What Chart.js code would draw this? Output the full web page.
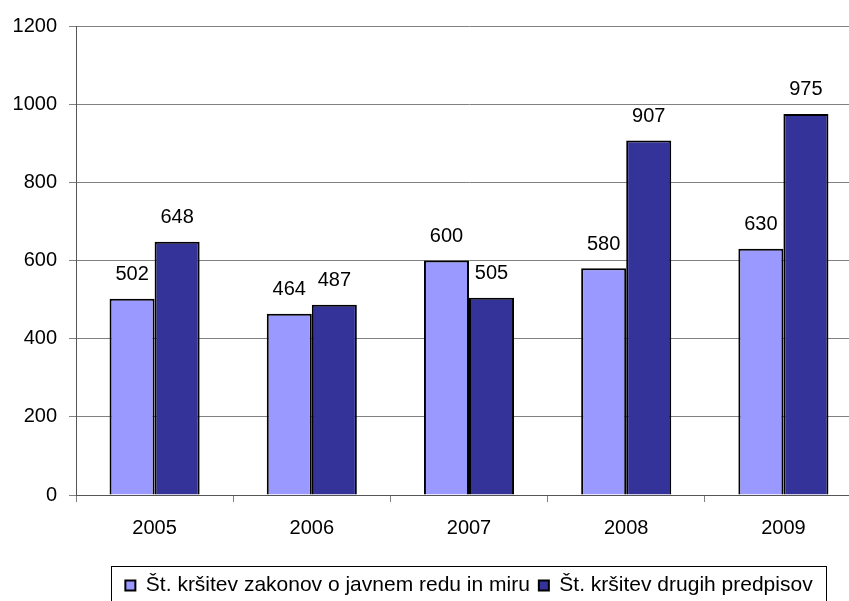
<!DOCTYPE html>
<html>
<head>
<meta charset="utf-8">
<script src="https://cdn.jsdelivr.net/npm/chart.js@4.4.1/dist/chart.umd.min.js"></script>
<style>
html,body{margin:0;padding:0;background:#fff;overflow:hidden;}
#wrap{width:880px;height:620px;position:relative;}
</style>
</head>
<body>
<div id="wrap"><canvas id="c" width="880" height="620"></canvas></div>
<script>
const categories = ['2005','2006','2007','2008','2009'];
const seriesNames = ['Št. kršitev zakonov o javnem redu in miru','Št. kršitev drugih predpisov'];
const javniRed = [502,464,600,580,630];
const drugiPredpisi = [648,487,505,907,975];
const yTicks = [0,200,400,600,800,1000,1200];

const FONT = "'Liberation Sans', Arial, sans-serif";

const valueLabels = {
  id:'valueLabels',
  afterDatasetsDraw(chart){
    const ctx = chart.ctx;
    ctx.save();
    ctx.font = '20px ' + FONT;
    ctx.fillStyle = '#000';
    ctx.textAlign = 'center';
    ctx.textBaseline = 'bottom';
    chart.data.datasets.forEach((ds,i)=>{
      const meta = chart.getDatasetMeta(i);
      meta.data.forEach((bar,j)=>{
        ctx.fillText(String(ds.data[j]), bar.x, bar.y - 14);
      });
    });
    ctx.restore();
  }
};

const legendBox = {
  id:'legendBox',
  afterDraw(chart){
    const lg = chart.legend;
    if(!lg || !lg.legendHitBoxes || !lg.legendHitBoxes.length) return;
    const hb = lg.legendHitBoxes;
    let l = Infinity, r = -Infinity, t = Infinity;
    hb.forEach(h=>{ l=Math.min(l,h.left); r=Math.max(r,h.left+h.width); t=Math.min(t,h.top); });
    const ctx = chart.ctx;
    ctx.save();
    ctx.strokeStyle = '#000';
    ctx.lineWidth = 1;
    const x0 = Math.round(l-14)+0.5;
    const x1 = Math.round(r+13)+0.5;
    ctx.strokeRect(x0, Math.round(lg.top)+0.5, x1-x0, 80);
    ctx.restore();
  }
};

new Chart(document.getElementById('c'), {
  type:'bar',
  data:{
    labels:categories,
    datasets:[
      {label:seriesNames[0], data:javniRed, backgroundColor:'#9999FF', borderColor:'#000', borderWidth:2, barPercentage:1, categoryPercentage:0.573},
      {label:seriesNames[1], data:drugiPredpisi, backgroundColor:'#333399', borderColor:'#000', borderWidth:2, barPercentage:1, categoryPercentage:0.573}
    ]
  },
  options:{
    responsive:false,
    animation:false,
    layout:{padding:{top:26,right:18,bottom:14,left:0}},
    scales:{
      x:{
        grid:{display:true, drawOnChartArea:false, drawTicks:true, tickLength:7, color:'#808080', offset:true},
        border:{display:true, color:'#555', width:1},
        ticks:{color:'#000', font:{family:FONT, size:20}, padding:14},
        afterFit(s){ s.height = 71; }
      },
      y:{
        min:0, max:1200,
        afterBuildTicks(s){ s.ticks = yTicks.map(v=>({value:v})); },
        grid:{color:'#808080', lineWidth:1, tickLength:7, drawTicks:true},
        border:{display:true, color:'#555', width:1},
        ticks:{color:'#000', font:{family:FONT, size:20}, padding:12, callback:(v)=>String(v)},
        afterFit(s){ s.width = 76; }
      }
    },
    plugins:{
      legend:{
        position:'bottom',
        fullSize:false,
        labels:{
          color:'#000',
          font:{family:FONT, size:21},
          boxWidth:10, boxHeight:10,
          padding:9,
          useBorderRadius:false
        }
      },
      tooltip:{enabled:false}
    }
  },
  plugins:[valueLabels, legendBox]
});
</script>
</body>
</html>
